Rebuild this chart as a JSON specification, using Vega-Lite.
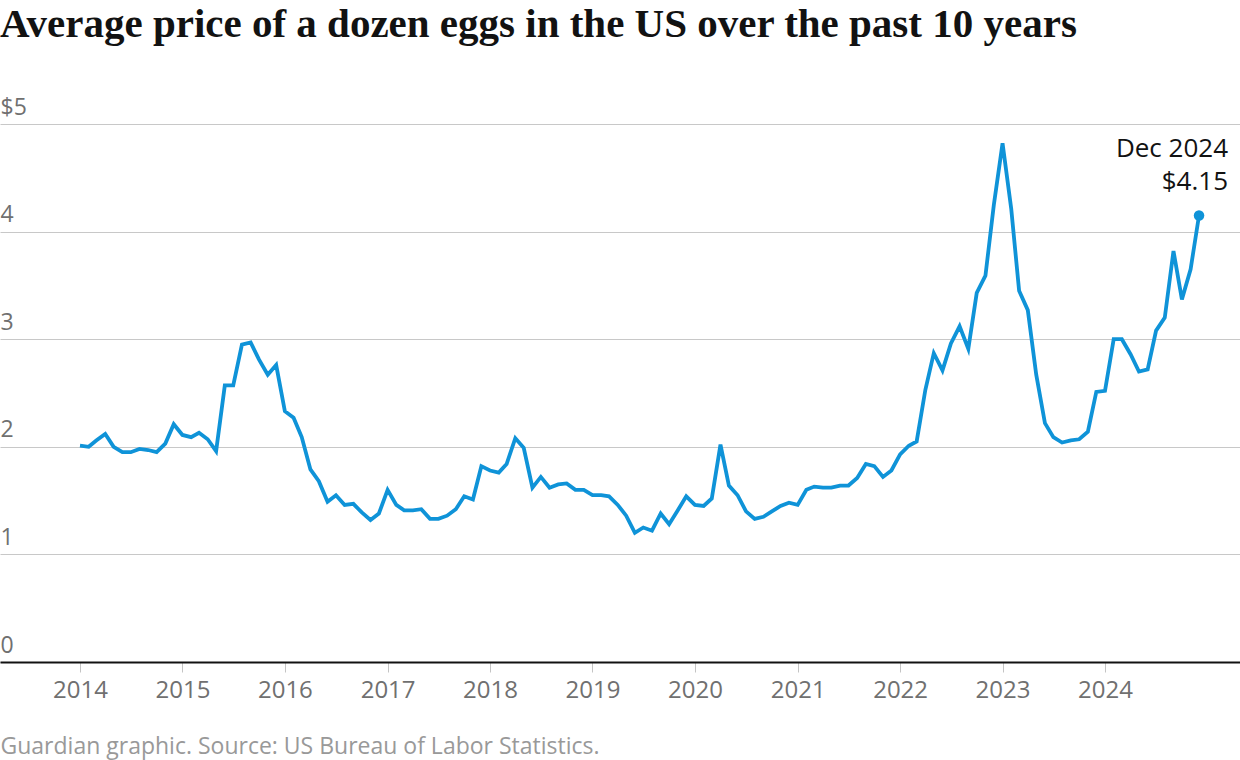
{
  "$schema": "https://vega.github.io/schema/vega-lite/v6.json",
  "width": 1240,
  "height": 538,
  "autosize": {"type": "none"},
  "padding": {"top": 124, "bottom": 98, "left": 0, "right": 0},
  "background": "white",
  "title": {
    "text": "Average price of a dozen eggs in the US over the past 10 years",
    "anchor": "start",
    "frame": "group",
    "font": "Liberation Serif",
    "fontSize": 41,
    "fontWeight": "bold",
    "color": "#121212",
    "offset": 50
  },
  "datasets": {
    "eggs": [
      {"date": "2014-01-01", "price": 2.01}, {"date": "2014-02-01", "price": 2.00}, {"date": "2014-03-01", "price": 2.06}, {"date": "2014-04-01", "price": 2.12},
      {"date": "2014-05-01", "price": 2.00}, {"date": "2014-06-01", "price": 1.95}, {"date": "2014-07-01", "price": 1.95}, {"date": "2014-08-01", "price": 1.98},
      {"date": "2014-09-01", "price": 1.97}, {"date": "2014-10-01", "price": 1.95}, {"date": "2014-11-01", "price": 2.03}, {"date": "2014-12-01", "price": 2.21},
      {"date": "2015-01-01", "price": 2.11}, {"date": "2015-02-01", "price": 2.09}, {"date": "2015-03-01", "price": 2.13}, {"date": "2015-04-01", "price": 2.07},
      {"date": "2015-05-01", "price": 1.96}, {"date": "2015-06-01", "price": 2.57}, {"date": "2015-07-01", "price": 2.57}, {"date": "2015-08-01", "price": 2.95},
      {"date": "2015-09-01", "price": 2.97}, {"date": "2015-10-01", "price": 2.81}, {"date": "2015-11-01", "price": 2.67}, {"date": "2015-12-01", "price": 2.76},
      {"date": "2016-01-01", "price": 2.33}, {"date": "2016-02-01", "price": 2.27}, {"date": "2016-03-01", "price": 2.09}, {"date": "2016-04-01", "price": 1.79},
      {"date": "2016-05-01", "price": 1.68}, {"date": "2016-06-01", "price": 1.49}, {"date": "2016-07-01", "price": 1.55}, {"date": "2016-08-01", "price": 1.46},
      {"date": "2016-09-01", "price": 1.47}, {"date": "2016-10-01", "price": 1.39}, {"date": "2016-11-01", "price": 1.32}, {"date": "2016-12-01", "price": 1.38},
      {"date": "2017-01-01", "price": 1.60}, {"date": "2017-02-01", "price": 1.46}, {"date": "2017-03-01", "price": 1.41}, {"date": "2017-04-01", "price": 1.41},
      {"date": "2017-05-01", "price": 1.42}, {"date": "2017-06-01", "price": 1.33}, {"date": "2017-07-01", "price": 1.33}, {"date": "2017-08-01", "price": 1.36},
      {"date": "2017-09-01", "price": 1.42}, {"date": "2017-10-01", "price": 1.54}, {"date": "2017-11-01", "price": 1.51}, {"date": "2017-12-01", "price": 1.82},
      {"date": "2018-01-01", "price": 1.78}, {"date": "2018-02-01", "price": 1.76}, {"date": "2018-03-01", "price": 1.84}, {"date": "2018-04-01", "price": 2.08},
      {"date": "2018-05-01", "price": 1.99}, {"date": "2018-06-01", "price": 1.62}, {"date": "2018-07-01", "price": 1.72}, {"date": "2018-08-01", "price": 1.62},
      {"date": "2018-09-01", "price": 1.65}, {"date": "2018-10-01", "price": 1.66}, {"date": "2018-11-01", "price": 1.60}, {"date": "2018-12-01", "price": 1.60},
      {"date": "2019-01-01", "price": 1.55}, {"date": "2019-02-01", "price": 1.55}, {"date": "2019-03-01", "price": 1.54}, {"date": "2019-04-01", "price": 1.46},
      {"date": "2019-05-01", "price": 1.36}, {"date": "2019-06-01", "price": 1.20}, {"date": "2019-07-01", "price": 1.25}, {"date": "2019-08-01", "price": 1.22},
      {"date": "2019-09-01", "price": 1.38}, {"date": "2019-10-01", "price": 1.28}, {"date": "2019-11-01", "price": 1.41}, {"date": "2019-12-01", "price": 1.54},
      {"date": "2020-01-01", "price": 1.46}, {"date": "2020-02-01", "price": 1.45}, {"date": "2020-03-01", "price": 1.52}, {"date": "2020-04-01", "price": 2.02},
      {"date": "2020-05-01", "price": 1.64}, {"date": "2020-06-01", "price": 1.55}, {"date": "2020-07-01", "price": 1.40}, {"date": "2020-08-01", "price": 1.33},
      {"date": "2020-09-01", "price": 1.35}, {"date": "2020-10-01", "price": 1.40}, {"date": "2020-11-01", "price": 1.45}, {"date": "2020-12-01", "price": 1.48},
      {"date": "2021-01-01", "price": 1.46}, {"date": "2021-02-01", "price": 1.60}, {"date": "2021-03-01", "price": 1.63}, {"date": "2021-04-01", "price": 1.62},
      {"date": "2021-05-01", "price": 1.62}, {"date": "2021-06-01", "price": 1.64}, {"date": "2021-07-01", "price": 1.64}, {"date": "2021-08-01", "price": 1.71},
      {"date": "2021-09-01", "price": 1.84}, {"date": "2021-10-01", "price": 1.82}, {"date": "2021-11-01", "price": 1.72}, {"date": "2021-12-01", "price": 1.78},
      {"date": "2022-01-01", "price": 1.93}, {"date": "2022-02-01", "price": 2.01}, {"date": "2022-03-01", "price": 2.05}, {"date": "2022-04-01", "price": 2.53},
      {"date": "2022-05-01", "price": 2.87}, {"date": "2022-06-01", "price": 2.71}, {"date": "2022-07-01", "price": 2.96}, {"date": "2022-08-01", "price": 3.12},
      {"date": "2022-09-01", "price": 2.91}, {"date": "2022-10-01", "price": 3.43}, {"date": "2022-11-01", "price": 3.59}, {"date": "2022-12-01", "price": 4.25},
      {"date": "2023-01-01", "price": 4.82}, {"date": "2023-02-01", "price": 4.21}, {"date": "2023-03-01", "price": 3.45}, {"date": "2023-04-01", "price": 3.27},
      {"date": "2023-05-01", "price": 2.67}, {"date": "2023-06-01", "price": 2.22}, {"date": "2023-07-01", "price": 2.09}, {"date": "2023-08-01", "price": 2.04},
      {"date": "2023-09-01", "price": 2.06}, {"date": "2023-10-01", "price": 2.07}, {"date": "2023-11-01", "price": 2.14}, {"date": "2023-12-01", "price": 2.51},
      {"date": "2024-01-01", "price": 2.52}, {"date": "2024-02-01", "price": 3.00}, {"date": "2024-03-01", "price": 3.00}, {"date": "2024-04-01", "price": 2.86},
      {"date": "2024-05-01", "price": 2.70}, {"date": "2024-06-01", "price": 2.72}, {"date": "2024-07-01", "price": 3.08}, {"date": "2024-08-01", "price": 3.20},
      {"date": "2024-09-01", "price": 3.82}, {"date": "2024-10-01", "price": 3.37}, {"date": "2024-11-01", "price": 3.65}, {"date": "2024-12-01", "price": 4.15}
    ],
    "last": [
      {"date": "2024-12-01", "price": 4.15, "label": "Dec 2024\n$4.15"}
    ]
  },
  "encoding": {
    "x": {
      "field": "date",
      "type": "temporal",
      "scale": {"domain": ["2013-03-22", "2025-04-26"]},
      "axis": {
        "values": ["2014-01-01", "2015-01-01", "2016-01-01", "2017-01-01", "2018-01-01", "2019-01-01", "2020-01-01", "2021-01-01", "2022-01-01", "2023-01-01", "2024-01-01"],
        "format": "%Y",
        "grid": false,
        "domainColor": "#121212",
        "domainWidth": 2,
        "ticks": true,
        "tickColor": "#c4c4c4",
        "tickSize": 10,
        "tickWidth": 1,
        "labelFont": "Open Sans",
        "labelFontSize": 24,
        "labelColor": "#707070",
        "labelPadding": 6,
        "labelFlush": false,
        "title": "Guardian graphic. Source: US Bureau of Labor Statistics.",
        "titleFont": "Open Sans",
        "titleFontSize": 23,
        "titleFontWeight": "normal",
        "titleColor": "#999999",
        "titleAnchor": "start",
        "titleAlign": "left",
        "titleX": 0,
        "titleY": 91,
        "titleBaseline": "alphabetic"
      }
    },
    "y": {
      "field": "price",
      "type": "quantitative",
      "scale": {"domain": [0, 5], "nice": false, "zero": true},
      "axis": {
        "values": [0, 1, 2, 3, 4, 5],
        "labelExpr": "datum.value == 5 ? '$5' : datum.label",
        "title": null,
        "grid": true,
        "gridColor": "#c8c8c8",
        "gridWidth": 1,
        "domain": false,
        "ticks": false,
        "tickSize": 0,
        "labelAlign": "left",
        "labelBaseline": "alphabetic",
        "labelPadding": 0,
        "labelOffset": -10,
        "labelFont": "Open Sans",
        "labelFontSize": 23,
        "labelColor": "#707070"
      }
    }
  },
  "layer": [
    {
      "data": {"name": "eggs"},
      "mark": {"type": "line", "color": "#0f93d8", "strokeWidth": 3.8}
    },
    {
      "data": {"name": "last"},
      "mark": {"type": "point", "filled": true, "opacity": 1, "color": "#0f93d8", "size": 110}
    },
    {
      "data": {"name": "last"},
      "mark": {
        "type": "text",
        "align": "right",
        "baseline": "alphabetic",
        "dx": 29,
        "dy": -58,
        "lineBreak": "\n",
        "lineHeight": 33,
        "font": "Open Sans",
        "fontSize": 26,
        "color": "#121212"
      },
      "encoding": {"text": {"field": "label", "type": "nominal"}}
    }
  ],
  "config": {
    "view": {"stroke": null}
  }
}
